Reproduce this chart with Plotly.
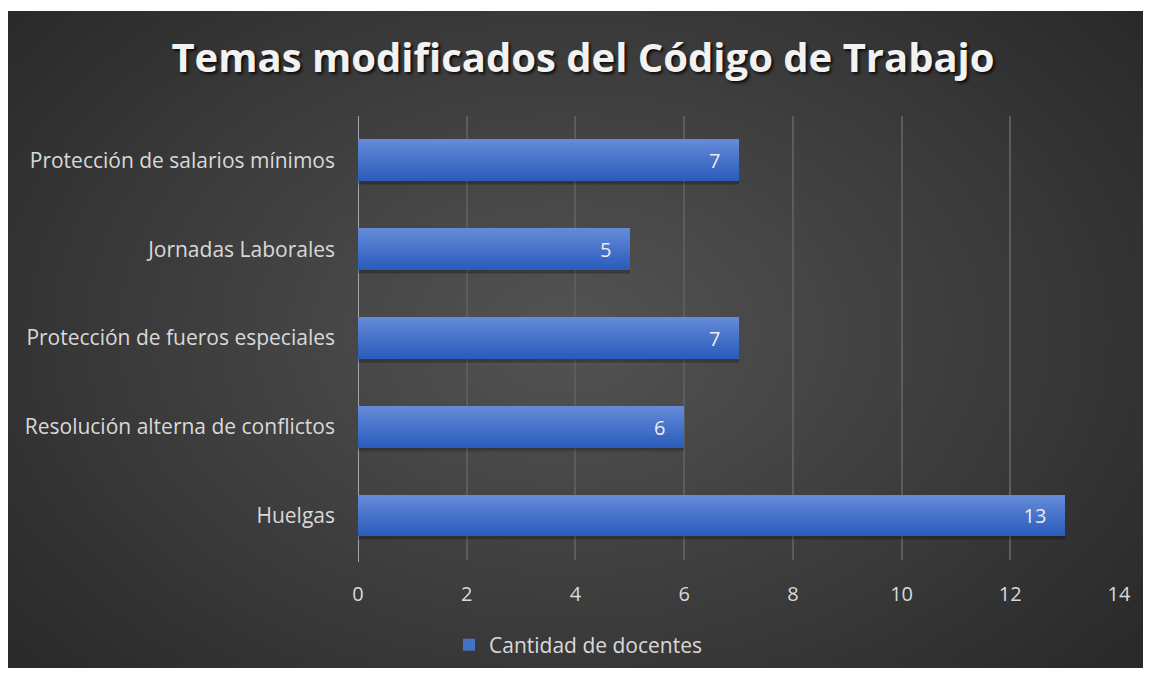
import plotly.graph_objects as go

# ---- data ----
categories = ["Huelgas", "Resolución alterna de conflictos", "Protección de fueros especiales",
              "Jornadas Laborales", "Protección de salarios mínimos"]
values = [13, 6, 7, 5, 7]
series_name = "Cantidad de docentes"
x_ticks = [0, 2, 4, 6, 8, 10, 12, 14]
title_text = "Temas modificados del Código de Trabajo"

# ---- layout geometry (figure pixel coords; page has an 8px body margin) ----
W, H = 1143, 668
ML, MR, MT, MB = 350, 32, 108, 116
PW, PH = W - ML - MR, H - MT - MB

def px_x(p):
    return (p - ML) / PW

def px_y(p):
    return (H - MB - p) / PH

fig = go.Figure()

bar_w = 0.47
half = bar_w / 2

# soft shadow
for dy, op in [(0.045, 0.12), (0.03, 0.15)]:
    fig.add_trace(go.Bar(y=categories, x=values, orientation="h", offset=-half - dy, width=bar_w,
                         marker=dict(color="rgba(0,0,0,%.2f)" % op, line=dict(width=0)),
                         showlegend=False, hoverinfo="skip"))

# gradient strips (bottom dark -> top light)
n = 14
c0 = (44, 92, 188)
c1 = (98, 138, 215)
for i in range(n):
    t = i / (n - 1)
    col = tuple(int(round(c0[k] + (c1[k] - c0[k]) * t)) for k in range(3))
    fig.add_trace(go.Bar(y=categories, x=values, orientation="h",
                         offset=-half + i * bar_w / n, width=bar_w / n + 0.002,
                         marker=dict(color="rgb(%d,%d,%d)" % col, line=dict(width=0)),
                         showlegend=False, hoverinfo="skip"))

# label trace
fig.add_trace(go.Bar(y=categories, x=values, orientation="h", offset=-half, width=bar_w,
                     name=series_name, text=[str(v) + "\u00a0\u00a0\u00a0" for v in values],
                     textposition="inside", insidetextanchor="end",
                     textfont=dict(color="#ececec", size=20, family="Open Sans"),
                     marker=dict(color="rgba(0,0,0,0)", line=dict(width=0)),
                     showlegend=False, hoverinfo="skip"))
# legend-only trace
fig.add_trace(go.Bar(y=[None], x=[None], orientation="h", name=series_name,
                     marker=dict(color="#4472c4", line=dict(width=0)), showlegend=True))

# background: panel + radial glow
shapes = [dict(type="rect", xref="paper", yref="paper",
               x0=px_x(0), x1=px_x(1135), y0=px_y(660), y1=px_y(3),
               fillcolor="#262626", line=dict(width=0), layer="below")]
cx, cy = 560, 325
steps = 45
for i in range(steps):
    f = 1 - i / steps
    rx, ry = 780 * f, 540 * f
    shapes.append(dict(type="circle", xref="paper", yref="paper",
                       x0=px_x(cx - rx), x1=px_x(cx + rx), y0=px_y(cy + ry), y1=px_y(cy - ry),
                       fillcolor="rgba(255,255,255,0.0072)", line=dict(width=0), layer="below"))
# mask outside panel with white
shapes += [
    dict(type="rect", xref="paper", yref="paper", x0=px_x(1135), x1=px_x(W + 60), y0=px_y(H + 60), y1=px_y(-60),
         fillcolor="white", line=dict(width=0), layer="below"),
    dict(type="rect", xref="paper", yref="paper", x0=px_x(-60), x1=px_x(W + 60), y0=px_y(3), y1=px_y(-60),
         fillcolor="white", line=dict(width=0), layer="below"),
    dict(type="rect", xref="paper", yref="paper", x0=px_x(-60), x1=px_x(W + 60), y0=px_y(H + 60), y1=px_y(660),
         fillcolor="white", line=dict(width=0), layer="below"),
    dict(type="rect", xref="paper", yref="paper", x0=px_x(-60), x1=px_x(0), y0=px_y(H + 60), y1=px_y(-60),
         fillcolor="white", line=dict(width=0), layer="below"),
]

fig.update_layout(
    width=W, height=H,
    margin=dict(l=ML, r=MR, t=MT, b=MB, pad=0),
    paper_bgcolor="white", plot_bgcolor="rgba(0,0,0,0)",
    barmode="overlay", bargap=0,
    shapes=shapes,
    title=dict(text="<b>" + title_text + "</b>", x=575 / W, xanchor="center",
               y=1 - 50 / H, yanchor="middle", xref="container", yref="container",
               font=dict(family="Open Sans", size=40, color="#f2f2f2",
                         shadow="2px 2px 3px rgba(0,0,0,0.8)")),
    xaxis=dict(range=[0, 14], tickvals=x_ticks, ticktext=[str(v) for v in x_ticks],
               showgrid=True, gridcolor="#5c5c5c", gridwidth=1.5, zeroline=False,
               showline=False, ticks="", ticklabelstandoff=20,
               tickfont=dict(family="Open Sans", size=20, color="#d9d9d9")),
    yaxis=dict(type="category", categoryorder="array", categoryarray=categories,
               range=[-0.5, 4.5], showgrid=False, zeroline=False,
               showline=False, ticks="", ticklabelstandoff=22,
               tickfont=dict(family="Open Sans", size=21, color="#d9d9d9")),
    legend=dict(orientation="h", xref="container", yref="container",
                x=441 / W, xanchor="left", y=1 - 637 / H, yanchor="middle",
                font=dict(family="Open Sans", size=21, color="#d9d9d9"),
                bgcolor="rgba(0,0,0,0)", itemwidth=30),
    showlegend=True,
)

# y axis line at x=0
fig.add_shape(type="line", xref="x", yref="paper", x0=0, x1=0, y0=px_y(554), y1=px_y(108),
              line=dict(color="#a6a6a6", width=2), layer="between")

fig.write_html("out.html")
